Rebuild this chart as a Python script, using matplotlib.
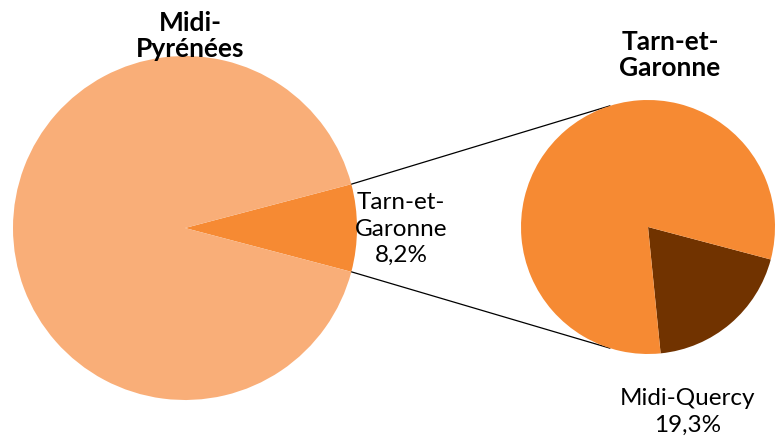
import matplotlib.pyplot as plt
import numpy as np

# Data
mp_labels = ["Tarn-et-Garonne", "Reste Midi-Pyrénées"]
mp_values = [8.2, 91.8]
tg_labels = ["Midi-Quercy", "Reste Tarn-et-Garonne"]
tg_values = [19.3, 80.7]

W, H = 779, 447
fig = plt.figure(figsize=(W / 100, H / 100), dpi=100)
ax = fig.add_axes([0, 0, 1, 1])

font = ['Lato', 'DejaVu Sans']

c_light = '#F9AE78'
c_mid = '#F68A33'
c_dark = '#713300'

# Left pie
lc = (185, H - 228)
lr = 172
half = mp_values[0] / sum(mp_values) * 360 / 2
ax.pie(mp_values, colors=[c_mid, c_light], startangle=-half, counterclock=True,
       center=lc, radius=lr, frame=True, wedgeprops=dict(linewidth=0))

# Right pie
rc = (648, H - 227)
rr = 127
ax.pie(tg_values, colors=[c_dark, c_mid], startangle=-84.3, counterclock=True,
       center=rc, radius=rr, frame=True, wedgeprops=dict(linewidth=0))
ax.set_xlim(0, W)
ax.set_ylim(0, H)
ax.set_aspect('equal')
ax.axis('off')

# Connector lines
for sgn in (1, -1):
    a1 = np.deg2rad(sgn * half)
    a2 = np.deg2rad(sgn * 107.5)
    x1, y1 = lc[0] + lr * np.cos(a1), lc[1] + lr * np.sin(a1)
    x2, y2 = rc[0] + rr * np.cos(a2), rc[1] + rr * np.sin(a2)
    ax.plot([x1, x2], [y1, y2], color='black', lw=0.9, zorder=0.5)

# Titles
ax.text(190, H - 36, "Midi-\nPyrénées", ha='center', va='center', fontsize=19,
        fontweight='bold', family=font, linespacing=1.12)
ax.text(670, H - 55, "Tarn-et-\nGaronne", ha='center', va='center', fontsize=19,
        fontweight='bold', family=font, linespacing=1.15)

# Labels
ax.text(401, H - 229, f"Tarn-et-\nGaronne\n{mp_values[0]:.1f}%".replace('.', ','),
        ha='center', va='center', fontsize=17.5, family=font, linespacing=1.32)
ax.text(688, H - 412, f"Midi-Quercy\n{tg_values[0]:.1f}%".replace('.', ','),
        ha='center', va='center', fontsize=17.5, family=font, linespacing=1.32)

fig.savefig('out.png', dpi=100)
